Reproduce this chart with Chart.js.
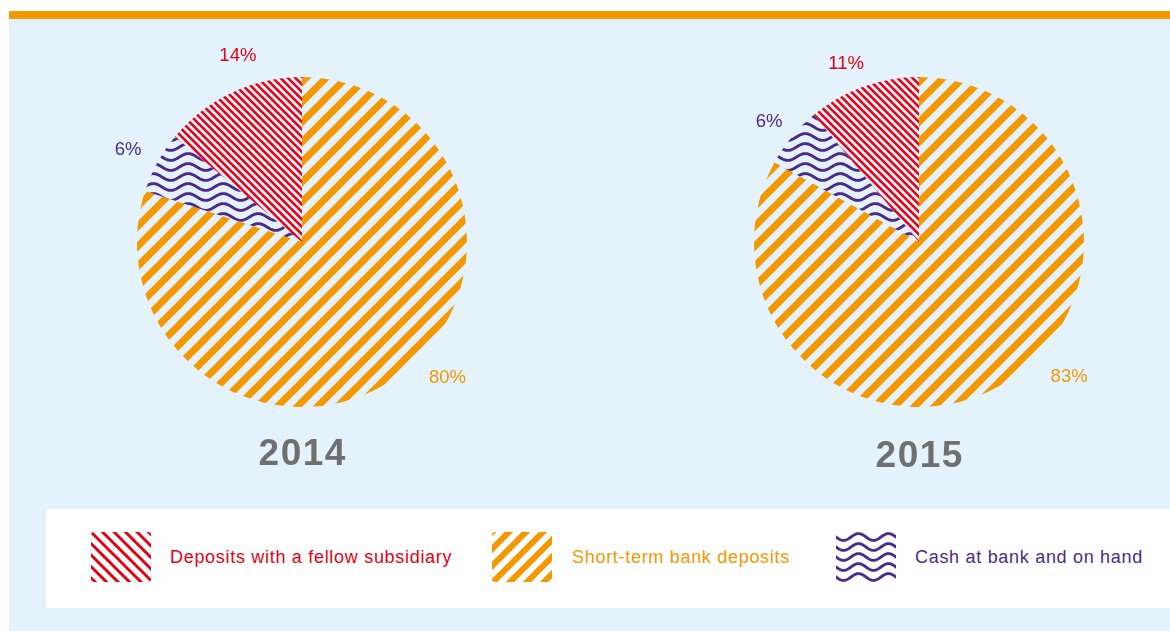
<!DOCTYPE html>
<html>
<head>
<meta charset="utf-8">
<script src="https://cdn.jsdelivr.net/npm/chart.js@4/dist/chart.umd.min.js"></script>
<style>
  html, body { margin:0; padding:0; }
  body { width:1170px; height:631px; position:relative; overflow:hidden; background:#ffffff;
         font-family:"Liberation Sans", Arial, Helvetica, sans-serif; }
  #panel { position:absolute; left:9px; top:11px; width:1161px; height:620px; background:#e4f2fb;
           border-top:8px solid #f39800; box-sizing:border-box; }
  .pie { position:absolute; }
  #legend { position:absolute; left:46px; top:509px; width:1124px; height:99px; background:#ffffff; }
  .sw { position:absolute; top:532px; border-radius:3px; }
  .lt { position:absolute; top:546px; font-size:18px; letter-spacing:0.7px; line-height:22px; white-space:nowrap; }
</style>
</head>
<body>
<div id="panel"></div>
<div id="legend"></div>
<canvas id="pie2014" class="pie" width="560" height="500" style="left:22px;top:22px;width:560px;height:500px"></canvas>
<canvas id="pie2015" class="pie" width="560" height="500" style="left:639px;top:22px;width:560px;height:500px"></canvas>
<div id="legendItems"></div>
<script>
// ---- data ----
const categories = ['Short-term bank deposits', 'Cash at bank and on hand', 'Deposits with a fellow subsidiary'];
const years = ['2014', '2015'];
const values2014 = [80, 6, 14];
const values2015 = [83, 6, 11];
const legendOrder = [2, 0, 1];

// ---- styles ----
const colors = ['#f39800', '#4b2a8b', '#e60013'];
const yearColor = '#6f6f6f';

function stripePattern(color, tile, count, width, dir) {
  const c = document.createElement('canvas');
  c.width = tile; c.height = tile;
  const g = c.getContext('2d');
  g.strokeStyle = color; g.lineWidth = width;
  const step = tile / count;
  for (let k = -3 * count; k <= 4 * count; k++) {
    const v = k * step;
    g.beginPath();
    if (dir === '/') { g.moveTo(v + tile, -tile); g.lineTo(v - 2 * tile, 2 * tile); }
    else { g.moveTo(v - tile, -tile); g.lineTo(v + 2 * tile, 2 * tile); }
    g.stroke();
  }
  return c;
}
function wavePattern(color, w, h, amp, width) {
  const c = document.createElement('canvas');
  c.width = w; c.height = h;
  const g = c.getContext('2d');
  g.strokeStyle = color; g.lineWidth = width;
  for (const off of [-h, 0, h]) {
    g.beginPath();
    for (let x = -2; x <= w + 2; x += 0.5) {
      const y = h / 2 + off + amp * Math.sin(2 * Math.PI * x / w);
      if (x === -2) g.moveTo(x, y); else g.lineTo(x, y);
    }
    g.stroke();
  }
  return c;
}

const pieTiles = [
  stripePattern(colors[0], 20, 1, 7, '/'),
  wavePattern(colors[1], 35, 10, 3.4, 2.9),
  stripePattern(colors[2], 15, 2, 2.6, '\\')
];
const legendTiles = [
  stripePattern(colors[0], 17, 1, 6, '/'),
  wavePattern(colors[1], 30, 10, 3.4, 2.9),
  stripePattern(colors[2], 23, 2, 3, '\\')
];

const labelPlugin = {
  id: 'sliceLabels',
  afterDraw(chart, args, opts) {
    const ctx = chart.ctx;
    const arc = chart.getDatasetMeta(0).data[0];
    const cx = arc.x, cy = arc.y;
    const vals = chart.data.datasets[0].data;
    ctx.save();
    ctx.textAlign = 'center';
    ctx.textBaseline = 'middle';
    ctx.font = '18.5px "Liberation Sans", Arial, sans-serif';
    vals.forEach((v, i) => {
      const a = opts.angles[i] * Math.PI / 180;
      const r = opts.radii[i];
      ctx.fillStyle = colors[i];
      ctx.fillText(v + '%', cx + r * Math.sin(a), cy - r * Math.cos(a));
    });
    ctx.font = 'bold 37px "Liberation Sans", Arial, sans-serif';
    if ('letterSpacing' in ctx) ctx.letterSpacing = '1.5px';
    ctx.fillStyle = yearColor;
    ctx.fillText(opts.year, cx + 0.75, cy + opts.yearDy);
    ctx.restore();
  }
};

function makePie(id, values, year, angles, radii, yearDy) {
  const canvas = document.getElementById(id);
  const ctx = canvas.getContext('2d');
  new Chart(ctx, {
    type: 'pie',
    data: {
      labels: categories,
      datasets: [{
        data: values,
        backgroundColor: pieTiles.map(t => ctx.createPattern(t, 'repeat')),
        borderWidth: 0
      }]
    },
    options: {
      responsive: false,
      animation: false,
      rotation: 0,
      layout: { padding: { left: 115, right: 115, top: 55, bottom: 115 } },
      plugins: {
        legend: { display: false },
        tooltip: { enabled: false },
        sliceLabels: { year: year, angles: angles, radii: radii, yearDy: yearDy }
      }
    },
    plugins: [labelPlugin]
  });
}

makePie('pie2014', values2014, years[0], [133, 298, 341], [199, 197, 197], 213);
makePie('pie2015', values2015, years[1], [132, 308.7, 337.7], [202, 192, 192], 215);

// ---- legend ----
const swX = [91, 492, 836];
const txX = [170, 572, 915];
const holder = document.getElementById('legendItems');
legendOrder.forEach((ci, k) => {
  const sw = document.createElement('canvas');
  sw.width = 60; sw.height = 50;
  sw.className = 'sw';
  sw.style.left = swX[k] + 'px';
  const g = sw.getContext('2d');
  g.fillStyle = g.createPattern(legendTiles[ci], 'repeat');
  g.fillRect(0, 0, 60, 50);
  holder.appendChild(sw);
  const t = document.createElement('div');
  t.className = 'lt';
  t.style.left = txX[k] + 'px';
  t.style.color = colors[ci];
  t.textContent = categories[ci];
  holder.appendChild(t);
});
</script>
</body>
</html>
